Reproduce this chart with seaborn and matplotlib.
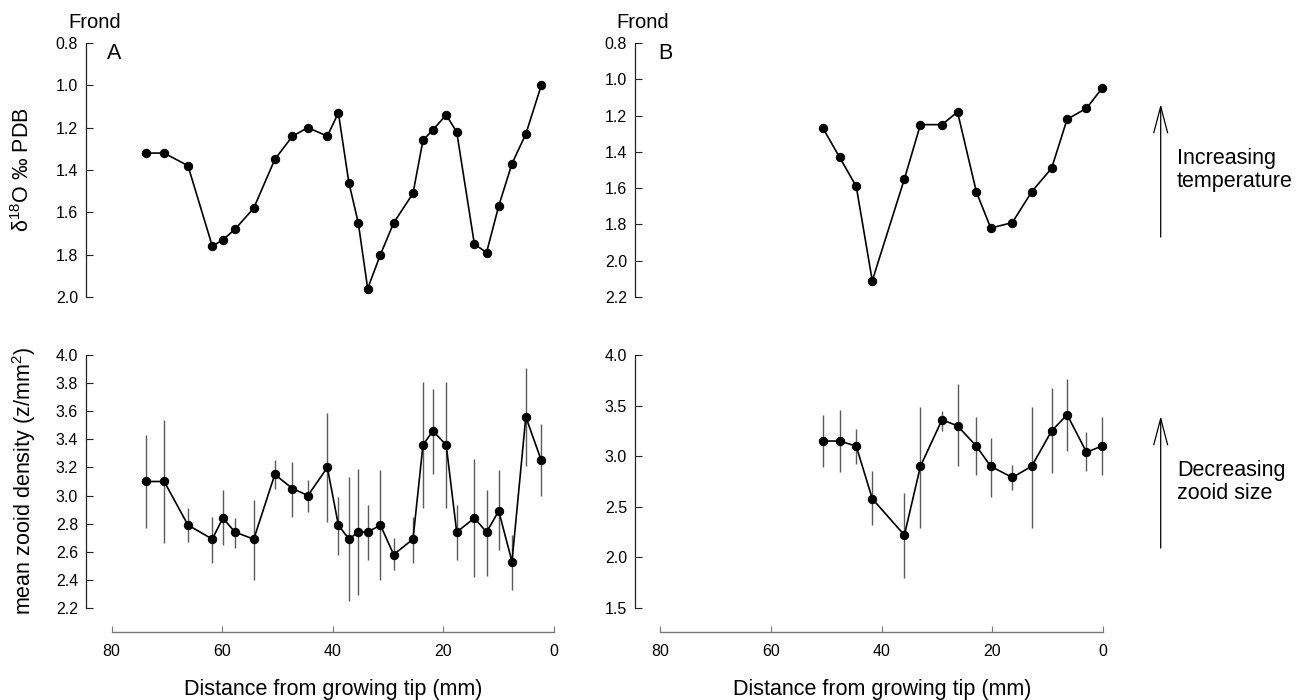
import numpy as np
import seaborn as sns
import matplotlib.pyplot as plt
from matplotlib.ticker import FormatStrFormatter

# Frond A: distance from tip (mm), d18O and zooid density (mean, upper, lower)
dist_a = [73.8, 70.5, 66.2, 61.8, 59.9, 57.7, 54.3, 50.5, 47.3, 44.5, 41.0, 39.0, 37.1, 35.4,
          33.7, 31.4, 29.0, 25.5, 23.7, 21.9, 19.5, 17.6, 14.4, 12.2, 10.0, 7.6, 5.1, 2.3]
d18o_a = [1.32, 1.32, 1.38, 1.76, 1.73, 1.68, 1.58, 1.35, 1.24, 1.20, 1.24, 1.13, 1.46, 1.65,
          1.96, 1.80, 1.65, 1.51, 1.26, 1.21, 1.14, 1.22, 1.75, 1.79, 1.57, 1.37, 1.23, 1.00]
dens_a = [3.10, 3.10, 2.79, 2.69, 2.84, 2.74, 2.69, 3.15, 3.05, 3.00, 3.20, 2.79, 2.69, 2.74,
          2.74, 2.79, 2.58, 2.69, 3.36, 3.46, 3.36, 2.74, 2.84, 2.74, 2.89, 2.53, 3.56, 3.25]
dens_a_hi = [3.43, 3.54, 2.91, 2.85, 3.04, 2.84, 2.97, 3.25, 3.24, 3.11, 3.59, 2.99, 3.13, 3.19,
             2.93, 3.18, 2.70, 2.85, 3.81, 3.76, 3.81, 2.93, 3.26, 3.04, 3.18, 2.72, 3.91, 3.51]
dens_a_lo = [2.77, 2.66, 2.67, 2.52, 2.65, 2.63, 2.40, 3.05, 2.85, 2.88, 2.81, 2.58, 2.25, 2.29,
             2.54, 2.40, 2.47, 2.52, 2.91, 3.15, 2.91, 2.54, 2.42, 2.43, 2.61, 2.33, 3.21, 3.00]

# Frond B
dist_b = [50.6, 47.6, 44.6, 41.7, 35.9, 33.0, 29.1, 26.3, 22.9, 20.3, 16.4, 12.9, 9.3, 6.5, 3.0, 0.2]
d18o_b = [1.27, 1.43, 1.59, 2.11, 1.55, 1.25, 1.25, 1.18, 1.62, 1.82, 1.79, 1.62, 1.49, 1.22, 1.16, 1.05]
dens_b = [3.15, 3.15, 3.10, 2.58, 2.22, 2.90, 3.36, 3.30, 3.10, 2.90, 2.79, 2.90, 3.25, 3.41, 3.04, 3.10]
dens_b_hi = [3.41, 3.46, 3.27, 2.85, 2.64, 3.49, 3.45, 3.71, 3.39, 3.18, 2.91, 3.49, 3.67, 3.76, 3.24, 3.39]
dens_b_lo = [2.89, 2.84, 2.92, 2.32, 1.80, 2.29, 3.25, 2.90, 2.81, 2.60, 2.67, 2.29, 2.83, 3.05, 2.85, 2.81]

x_ticks = [80, 60, 40, 20, 0]
yticks_top_a = [0.8, 1.0, 1.2, 1.4, 1.6, 1.8, 2.0]
yticks_top_b = [0.8, 1.0, 1.2, 1.4, 1.6, 1.8, 2.0, 2.2]
yticks_bot_a = [2.2, 2.4, 2.6, 2.8, 3.0, 3.2, 3.4, 3.6, 3.8, 4.0]
yticks_bot_b = [1.5, 2.0, 2.5, 3.0, 3.5, 4.0]

sns.set_style('ticks')
plt.rcParams['font.family'] = ['Liberation Sans', 'DejaVu Sans']
plt.rcParams['mathtext.fontset'] = 'custom'
plt.rcParams['mathtext.rm'] = 'Liberation Sans'
plt.rcParams['mathtext.it'] = 'Liberation Sans:italic'
plt.rcParams['text.color'] = 'black'
plt.rcParams['axes.labelcolor'] = 'black'
plt.rcParams['xtick.labelcolor'] = 'black'
plt.rcParams['ytick.labelcolor'] = 'black'

W, H = 1298, 700
fig = plt.figure(figsize=(W / 100, H / 100), dpi=100)


def px_axes(x0, y_top, x1, y_bot):
    return fig.add_axes([x0 / W, 1 - y_bot / H, (x1 - x0) / W, (y_bot - y_top) / H])


def style_axis(ax, yticks, top=True, fmt='%.1f'):
    sns.despine(ax=ax)
    ax.spines['left'].set_color('#222222')
    ax.spines['left'].set_linewidth(0.9)
    ax.set_yticks(yticks)
    ax.yaxis.set_major_formatter(FormatStrFormatter(fmt))
    ax.tick_params(axis='y', direction='in', length=5, width=0.8, pad=5.5,
                   labelsize=11.5, color='#222222', labelcolor='black')
    if top:
        ax.spines['bottom'].set_visible(False)
        ax.set_xticks([])
    else:
        ax.spines['bottom'].set_position(('outward', 17))
        ax.spines['bottom'].set_bounds(0, 80)
        ax.spines['bottom'].set_color('#777777')
        ax.spines['bottom'].set_linewidth(1.0)
        ax.set_xticks(x_ticks)
        ax.tick_params(axis='x', direction='in', length=4, width=0.8, pad=9,
                       labelsize=11.5, color='#777777', labelcolor='black')
    ax.set_xlabel('')
    ax.set_ylabel('')


def draw_line(ax, x, y):
    sns.lineplot(x=x, y=y, ax=ax, color='black', lw=1.2, marker='o', markersize=6,
                 markeredgecolor='black', sort=False, estimator=None, zorder=3)


# panel geometry in pixels
top_y = (43, 297)
bot_y = (355, 608)
ax_a_top = px_axes(85.7, top_y[0], 562.3, top_y[1])
ax_a_bot = px_axes(85.7, bot_y[0], 562.3, bot_y[1])
ax_b_top = px_axes(634.8, top_y[0], 1111.4, top_y[1])
ax_b_bot = px_axes(634.8, bot_y[0], 1111.4, bot_y[1])

# top panels: d18O (inverted axis)
draw_line(ax_a_top, dist_a, d18o_a)
ax_a_top.set_xlim(84.7, -1.5)
ax_a_top.set_ylim(2.0, 0.8)
style_axis(ax_a_top, yticks_top_a)

draw_line(ax_b_top, dist_b, d18o_b)
ax_b_top.set_xlim(84.6, -1.5)
ax_b_top.set_ylim(2.2, 0.8)
style_axis(ax_b_top, yticks_top_b)

# bottom panels: zooid density with error bars
ax_a_bot.vlines(dist_a, dens_a_lo, dens_a_hi, colors='#5a5a5a', lw=1.0, zorder=2)
draw_line(ax_a_bot, dist_a, dens_a)
ax_a_bot.set_xlim(84.7, -1.5)
ax_a_bot.set_ylim(2.2, 4.0)
style_axis(ax_a_bot, yticks_bot_a, top=False)

ax_b_bot.vlines(dist_b, dens_b_lo, dens_b_hi, colors='#5a5a5a', lw=1.0, zorder=2)
draw_line(ax_b_bot, dist_b, dens_b)
ax_b_bot.set_xlim(84.6, -1.5)
ax_b_bot.set_ylim(1.5, 4.0)
style_axis(ax_b_bot, yticks_bot_b, top=False)

# axis labels
ax_a_top.set_ylabel(r'$\mathrm{\delta}^{18}$O ‰ PDB', fontsize=15.5)
ax_a_top.yaxis.set_label_coords(-0.108, 0.5)
ax_a_bot.set_ylabel(r'mean zooid density (z/mm$^{2}$)', fontsize=15.5)
ax_a_bot.yaxis.set_label_coords(-0.1, 0.5)
for ax, xc in [(ax_a_bot, 0.52), (ax_b_bot, 0.519)]:
    ax.set_xlabel('Distance from growing tip (mm)', fontsize=15.5, va='top')
    ax.xaxis.set_label_coords(xc, -0.28)

# panel annotations
for x_frond, x_letter, letter in [(95, 107, 'A'), (643, 658, 'B')]:
    fig.text(x_frond / W, 1 - 28 / H, 'Frond', fontsize=14.5, ha='center', va='baseline')
    fig.text(x_letter / W, 1 - 59 / H, letter, fontsize=15.5, ha='left', va='baseline')

# arrows and side notes
for tail, tip, text, ty in [(237, 104, 'Increasing\ntemperature', 170),
                            (548, 416, 'Decreasing\nzooid size', 482)]:
    fig.add_artist(plt.Annotation('', xy=(1160.7 / W, 1 - tip / H), xycoords='figure fraction',
                                  xytext=(1160.7 / W, 1 - tail / H), textcoords='figure fraction',
                                  arrowprops=dict(arrowstyle='->,head_length=1.9,head_width=0.5',
                                                  mutation_scale=10, lw=0.9, color='black',
                                                  shrinkA=0, shrinkB=0)))
    fig.text(1177 / W, 1 - ty / H, text, fontsize=15.5, ha='left', va='center',
             linespacing=1.15)

fig.savefig('out.png', dpi=100)
